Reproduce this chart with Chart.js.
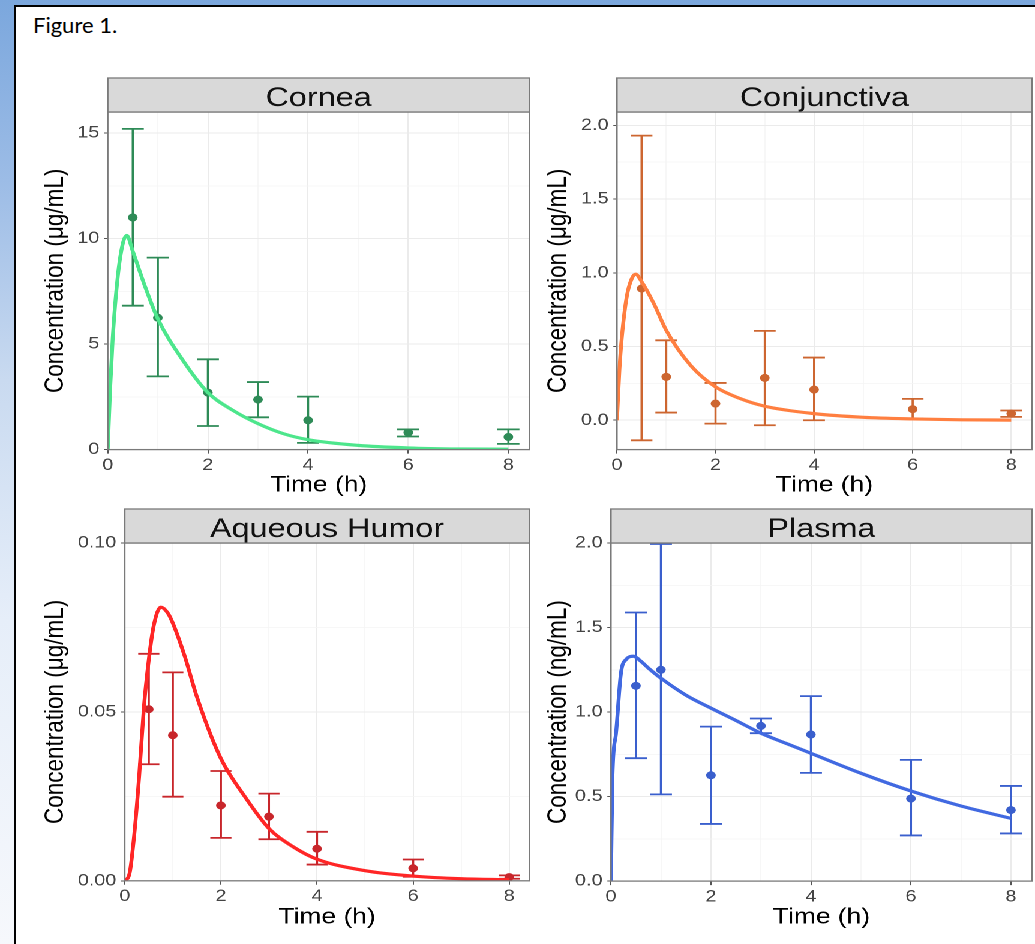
<!DOCTYPE html>
<html>
<head>
<meta charset="utf-8">
<script src="https://cdn.jsdelivr.net/npm/chart.js@4.4.1/dist/chart.umd.min.js"></script>
<style>
  html, body { margin: 0; padding: 0; }
  body {
    width: 1035px; height: 944px; overflow: hidden; position: relative;
    background: linear-gradient(to bottom, #7ba7dd 0px, #9cbce6 180px, #c9daf0 380px, #e6eef9 620px, #f6f8fc 944px);
  }
  #sheet {
    position: absolute; left: 14px; top: 5px; right: -10px; bottom: -10px;
    background: #fff; border-left: 2px solid #000; border-top: 2px solid #000;
  }
  #fig { position: absolute; left: 33px; top: 11px; font: 22px Lato, "Open Sans", sans-serif; color: #000; }
  /* the source figure is stretched sideways, so the charts are drawn narrow and widened */
  #wrap { position: absolute; left: 0; top: 0; width: 863px; height: 944px; transform: scaleX(1.2); transform-origin: 0 0; }
  #wrap canvas { position: absolute; }
</style>
</head>
<body>
<div id="sheet"></div>
<div id="fig">Figure 1.</div>
<div id="wrap"></div>
<script>
"use strict";

const SX = 1.2;

// shared time axis
const timeTicks = [0, 1, 2, 3, 4, 5, 6, 7, 8];
const timeLabels = [0, 2, 4, 6, 8];

// Cornea (µg/mL)
const corneaTime = [0.5, 1, 2, 3, 4, 6, 8];
const corneaMean = [11.0, 6.25, 2.7, 2.37, 1.39, 0.81, 0.6];
const corneaLow  = [6.82, 3.47, 1.12, 1.53, 0.32, 0.62, 0.27];
const corneaHigh = [15.2, 9.1, 4.28, 3.2, 2.51, 0.96, 0.96];
const corneaFitTime = [0, 0.05, 0.1, 0.2, 0.3, 0.38, 0.5, 0.75, 1, 1.5, 2, 2.5, 3, 3.5, 4, 5, 6, 7, 8];
const corneaFit     = [0, 3.0, 5.3, 8.2, 9.76, 10.15, 9.4, 7.7, 6.2, 4.23, 2.7, 1.86, 1.23, 0.76, 0.47, 0.2, 0.08, 0.03, 0.02];
const corneaYMajor = [0, 5, 10, 15];
const corneaYLabels = ['0', '5', '10', '15'];
const corneaYMinor = [2.5, 7.5, 12.5];

// Conjunctiva (µg/mL)
const conjTime = [0.5, 1, 2, 3, 4, 6, 8];
const conjMean = [0.893, 0.294, 0.113, 0.287, 0.208, 0.075, 0.045];
const conjLow  = [-0.136, 0.052, -0.023, -0.034, 0.0, 0.011, 0.023];
const conjHigh = [1.93, 0.542, 0.253, 0.606, 0.425, 0.145, 0.066];
const conjFitTime = [0, 0.05, 0.1, 0.2, 0.3, 0.38, 0.5, 0.75, 1, 1.5, 2, 2.5, 3, 4, 5, 6, 7, 8];
const conjFit     = [0, 0.34, 0.565, 0.84, 0.96, 0.99, 0.94, 0.79, 0.61, 0.37, 0.226, 0.147, 0.095, 0.045, 0.02, 0.009, 0.003, 0.001];
const conjYMajor = [0, 0.5, 1, 1.5, 2];
const conjYLabels = ['0.0', '0.5', '1.0', '1.5', '2.0'];
const conjYMinor = [0.25, 0.75, 1.25, 1.75];

// Aqueous Humor (µg/mL)
const ahTime = [0.5, 1, 2, 3, 4, 6, 8];
const ahMean = [0.0508, 0.0431, 0.0223, 0.019, 0.0095, 0.0037, 0.0011];
const ahLow  = [0.0345, 0.0249, 0.0127, 0.0123, 0.0048, 0.0012, 0.0006];
const ahHigh = [0.0672, 0.0617, 0.0325, 0.0258, 0.0145, 0.0063, 0.0016];
const ahFitTime = [0, 0.1, 0.2, 0.3, 0.4, 0.5, 0.6, 0.75, 0.9, 1, 1.25, 1.5, 2, 2.5, 3, 3.5, 4, 5, 6, 7, 8];
const ahFit     = [0, 0.0022, 0.014, 0.031, 0.0516, 0.0654, 0.0753, 0.081, 0.0792, 0.0763, 0.0664, 0.0545, 0.0362, 0.0249, 0.0155, 0.0101, 0.0064, 0.003, 0.0014, 0.0006, 0.0003];
const ahYMajor = [0, 0.05, 0.1];
const ahYLabels = ['0.00', '0.05', '0.10'];
const ahYMinor = [0.025, 0.075];

// Plasma (ng/mL)
const plasmaTime = [0.5, 1, 2, 3, 4, 6, 8];
const plasmaMean = [1.155, 1.25, 0.626, 0.918, 0.867, 0.488, 0.42];
const plasmaLow  = [0.727, 0.513, 0.338, 0.875, 0.64, 0.27, 0.282];
const plasmaHigh = [1.589, 1.994, 0.914, 0.962, 1.094, 0.717, 0.563];
const plasmaFitTime = [0, 0.03, 0.1, 0.2, 0.3, 0.45, 0.6, 0.75, 1, 1.5, 2, 2.5, 3, 3.5, 4, 5, 6, 7, 8];
const plasmaFit     = [0, 0.62, 0.87, 1.23, 1.31, 1.33, 1.3, 1.26, 1.2, 1.1, 1.023, 0.95, 0.875, 0.815, 0.756, 0.638, 0.533, 0.444, 0.371];
const plasmaYMajor = [0, 0.5, 1, 1.5, 2];
const plasmaYLabels = ['0.0', '0.5', '1.0', '1.5', '2.0'];
const plasmaYMinor = [0.25, 0.75, 1.25, 1.75];

Chart.defaults.font.family = '"Liberation Sans", Arial, sans-serif';

// error bars under the data, panel frame and grey strip on top
const panelDeco = {
  id: 'panelDeco',
  beforeDatasetsDraw(chart, args, opts) {
    const {ctx, scales: {x, y}} = chart;
    ctx.save();
    ctx.strokeStyle = opts.barColor;
    ctx.lineWidth = 1.8;
    opts.time.forEach((t, i) => {
      const px = x.getPixelForValue(t);
      const half = x.getPixelForValue(t + 0.22) - px;
      const yl = y.getPixelForValue(opts.low[i]);
      const yh = y.getPixelForValue(opts.high[i]);
      ctx.beginPath();
      ctx.moveTo(px, yl); ctx.lineTo(px, yh);
      ctx.moveTo(px - half, yl); ctx.lineTo(px + half, yl);
      ctx.moveTo(px - half, yh); ctx.lineTo(px + half, yh);
      ctx.stroke();
    });
    ctx.restore();
  },
  afterDraw(chart, args, opts) {
    const {ctx, chartArea: a} = chart;
    ctx.save();
    ctx.strokeStyle = '#7a7a7a';
    ctx.lineWidth = 1.3;
    ctx.strokeRect(a.left, a.top, a.right - a.left, a.bottom - a.top);
    ctx.fillStyle = '#d9d9d9';
    ctx.fillRect(a.left, a.top - 34, a.right - a.left, 34);
    ctx.strokeRect(a.left, a.top - 34, a.right - a.left, 34);
    ctx.fillStyle = '#111';
    ctx.font = '27px "Liberation Sans", Arial, sans-serif';
    ctx.textAlign = 'center';
    ctx.textBaseline = 'alphabetic';
    ctx.fillText(opts.strip, (a.left + a.right) / 2, a.top - 6);
    ctx.restore();
  }
};

function makePanel(p) {
  const leftPage = p.yTitleX - 13.2 * SX;
  const yAxisW = (p.x0 - leftPage) / SX;
  const plotW = (p.x1 - p.x0) / SX;
  const W = Math.ceil(yAxisW + plotW + 4);
  const plotH = p.y1 - p.y0;
  const xAxisH = p.xTitleMid - p.y1 + 13.2;
  const H = Math.ceil(40 + plotH + xAxisH + 2);

  const canvas = document.createElement('canvas');
  canvas.width = W;
  canvas.height = H;
  canvas.style.left = (leftPage / SX) + 'px';
  canvas.style.top = (p.y0 - 40) + 'px';
  canvas.style.width = W + 'px';
  canvas.style.height = H + 'px';
  document.getElementById('wrap').appendChild(canvas);

  const yAll = p.yMajor.concat(p.yMinor).sort((a, b) => a - b);
  const isMajorY = v => p.yMajor.indexOf(v) >= 0;
  const isMajorX = v => timeLabels.indexOf(v) >= 0;

  return new Chart(canvas, {
    type: 'scatter',
    data: {
      datasets: [{
        type: 'line',
        label: 'fit',
        data: p.fitTime.map((t, i) => ({x: t, y: p.fit[i]})),
        borderColor: p.lineColor,
        borderWidth: 3.2,
        pointRadius: 0,
        cubicInterpolationMode: 'monotone',
        fill: false
      }, {
        label: 'observed',
        data: p.time.map((t, i) => ({x: t, y: p.mean[i]})),
        backgroundColor: p.pointColor,
        borderColor: p.pointColor,
        pointRadius: 4,
        borderWidth: 0
      }]
    },
    options: {
      responsive: false,
      animation: false,
      devicePixelRatio: 2,
      layout: {padding: {left: 0, top: 40, right: W - yAxisW - plotW, bottom: H - 40 - plotH - xAxisH}},
      plugins: {
        legend: {display: false},
        tooltip: {enabled: false},
        panelDeco: {strip: p.strip, barColor: p.pointColor, time: p.time, low: p.low, high: p.high}
      },
      scales: {
        x: {
          type: 'linear',
          min: 0,
          max: 8.42,
          afterBuildTicks: s => { s.ticks = timeTicks.map(v => ({value: v})); },
          afterFit: s => { s.height = xAxisH; },
          border: {display: false},
          grid: {
            color: c => isMajorX(c.tick.value) ? '#ebebeb' : '#f4f4f4',
            lineWidth: c => isMajorX(c.tick.value) ? 1 : 0.7,
            tickColor: c => isMajorX(c.tick.value) ? '#555' : 'rgba(0,0,0,0)',
            tickLength: 4
          },
          ticks: {
            autoSkip: false,
            maxRotation: 0,
            padding: 2,
            color: '#444',
            font: {size: 16.5},
            callback: v => isMajorX(v) ? String(v) : ''
          },
          title: {display: true, text: 'Time (h)', color: '#000', font: {size: 22}, padding: 0}
        },
        y: {
          type: 'linear',
          min: p.yMin,
          max: p.yMax,
          afterBuildTicks: s => { s.ticks = yAll.map(v => ({value: v})); },
          afterFit: s => { s.width = yAxisW; },
          border: {display: false},
          grid: {
            color: c => isMajorY(c.tick.value) ? '#ebebeb' : '#f4f4f4',
            lineWidth: c => isMajorY(c.tick.value) ? 1 : 0.7,
            tickColor: c => isMajorY(c.tick.value) ? '#555' : 'rgba(0,0,0,0)',
            tickLength: 3
          },
          ticks: {
            autoSkip: false,
            padding: 4,
            color: '#444',
            font: {size: 16.5},
            callback: v => isMajorY(v) ? p.yLabels[p.yMajor.indexOf(v)] : ''
          },
          title: {display: true, text: p.yTitle, color: '#000', font: {size: 22.5}, padding: 0}
        }
      }
    },
    plugins: [panelDeco]
  });
}

makePanel({
  strip: 'Cornea', yTitle: 'Concentration (μg/mL)',
  x0: 107.3, x1: 529, y0: 111.7, y1: 449.3, yTitleX: 55, xTitleMid: 485,
  yMin: 0, yMax: 16.0, yMajor: corneaYMajor, yLabels: corneaYLabels, yMinor: corneaYMinor,
  time: corneaTime, mean: corneaMean, low: corneaLow, high: corneaHigh,
  fitTime: corneaFitTime, fit: corneaFit,
  lineColor: '#4de68c', pointColor: '#2e8b57'
});

makePanel({
  strip: 'Conjunctiva', yTitle: 'Concentration (μg/mL)',
  x0: 616.7, x1: 1031.7, y0: 111.7, y1: 449.3, yTitleX: 558, xTitleMid: 485,
  yMin: -0.199, yMax: 2.09, yMajor: conjYMajor, yLabels: conjYLabels, yMinor: conjYMinor,
  time: conjTime, mean: conjMean, low: conjLow, high: conjHigh,
  fitTime: conjFitTime, fit: conjFit,
  lineColor: '#ff7f40', pointColor: '#cd6630'
});

makePanel({
  strip: 'Aqueous Humor', yTitle: 'Concentration (μg/mL)',
  x0: 124.3, x1: 529, y0: 542.9, y1: 880.7, yTitleX: 55, xTitleMid: 917.4,
  yMin: 0, yMax: 0.1, yMajor: ahYMajor, yLabels: ahYLabels, yMinor: ahYMinor,
  time: ahTime, mean: ahMean, low: ahLow, high: ahHigh,
  fitTime: ahFitTime, fit: ahFit,
  lineColor: '#ff2626', pointColor: '#c8262b'
});

makePanel({
  strip: 'Plasma', yTitle: 'Concentration (ng/mL)',
  x0: 610.7, x1: 1031.7, y0: 542.9, y1: 881, yTitleX: 558, xTitleMid: 917.4,
  yMin: 0, yMax: 2.0, yMajor: plasmaYMajor, yLabels: plasmaYLabels, yMinor: plasmaYMinor,
  time: plasmaTime, mean: plasmaMean, low: plasmaLow, high: plasmaHigh,
  fitTime: plasmaFitTime, fit: plasmaFit,
  lineColor: '#4169e1', pointColor: '#3a5fcd'
});
</script>
</body>
</html>
